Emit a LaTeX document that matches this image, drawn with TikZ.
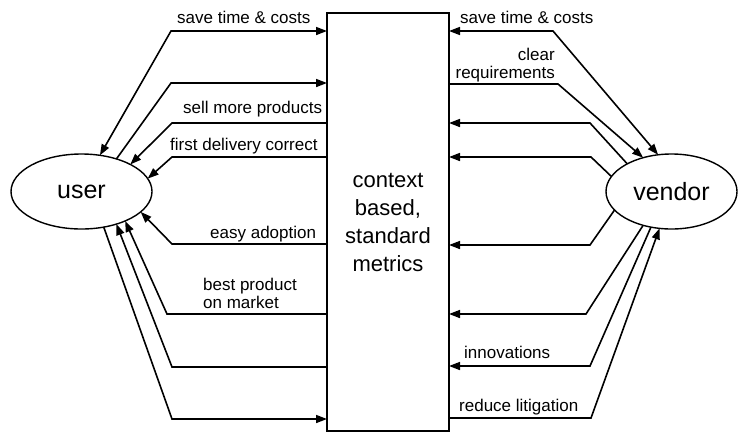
\documentclass[tikz,border=0pt]{standalone}
\usepackage{fontspec}
\setmainfont{Liberation Sans}
\usetikzlibrary{arrows.meta,shapes.geometric}
\begin{document}
\begin{tikzpicture}[x=1pt,y=-1pt,
  >={Triangle[length=11pt,width=8pt]},
  conn/.style={line width=1.6pt, line join=miter},
  lbl/.style={inner sep=0pt, font=\fontsize{17}{18}\selectfont},
  party/.style={ellipse, draw, line width=1.4pt, inner sep=0pt, outer sep=0pt,
                minimum height=75pt, font=\fontsize{25}{30}\selectfont},
  hub/.style={draw, line width=1.8pt, rectangle, inner sep=0pt, outer sep=0pt,
              minimum width=122pt, minimum height=418pt, align=center,
              font=\fontsize{22}{28}\selectfont}]
\useasboundingbox (0,0) rectangle (738,432);

% the two parties and the shared metrics in between
\node[party, minimum width=141pt] (user) at (81.5,191.5) {user};
\node[party, minimum width=131pt] (vendor) at (671.5,191.5) {vendor};
\node[hub] (hub) at (388,222) {context\\based,\\standard\\metrics};

% bends of the user-side connectors
\coordinate (l1) at (171,31);
\coordinate (l2) at (171,83);
\coordinate (l3) at (172,123);
\coordinate (l4) at (172,157);
\coordinate (l5) at (172,244);
\coordinate (l6) at (167,314);
\coordinate (l7) at (172,367);
\coordinate (l8) at (172,419);

\draw[conn,<->] (user.63) -- (l1) -- (l1 -| hub.west);
\draw[conn,->] (user.43) -- (l2) -- (l2 -| hub.west);
\draw[conn,->] (l3 -| hub.west) -- (l3) -- (user.29);
\draw[conn,->] (l4 -| hub.west) -- (l4) -- (user.11);
\draw[conn,->] (l5 -| hub.west) -- (l5) -- (user.-19);
\draw[conn,->] (l6 -| hub.west) -- (l6) -- (user.-34);
\draw[conn,->] (l7 -| hub.west) -- (l7) -- (user.-43);
\draw[conn,->] (user.-58) -- (l8) -- (l8 -| hub.west);

% bends of the vendor-side connectors
\coordinate (r1) at (553,31);
\coordinate (r2) at (558,84);
\coordinate (r3) at (590,123);
\coordinate (r4) at (591,157);
\coordinate (r5) at (590,245);
\coordinate (r6) at (586,314);
\coordinate (r7) at (590,366);
\coordinate (r8) at (591,418);

\draw[conn,<->] (vendor.110) -- (r1) -- (r1 -| hub.east);
\draw[conn,->] (r2 -| hub.east) -- (r2) -- (vendor.130);
\draw[conn,->] (vendor.148) -- (r3) -- (r3 -| hub.east);
\draw[conn,->] (vendor.166) -- (r4) -- (r4 -| hub.east);
\draw[conn,->] (vendor.198) -- (r5) -- (r5 -| hub.east);
\draw[conn,->] (vendor.230) -- (r6) -- (r6 -| hub.east);
\draw[conn,->] (vendor.240) -- (r7) -- (r7 -| hub.east);
\draw[conn,->] (r8 -| hub.east) -- (r8) -- (vendor.252);

% benefit labels, user side
\node[lbl, anchor=base west] (tu1) at (177,23) {save time \& costs};
\node[lbl, anchor=base west] (tu2) at (183,113) {sell more products};
\node[lbl, anchor=base west] (tu3) at (170,150) {first delivery correct};
\node[lbl, anchor=base west] (tu4) at (210,238) {easy adoption};
\node[lbl, anchor=north west, align=left] (tu5) at (203,277.6) {best product\\on market};

% benefit labels, vendor side
\node[lbl, anchor=base west] (tv1) at (460,23) {save time \& costs};
\node[lbl, anchor=north east, align=right] (tv2) at (555,47.6) {clear\\requirements};
\node[lbl, anchor=base west] (tv3) at (464,358) {innovations};
\node[lbl, anchor=base west] (tv4) at (459,411) {reduce litigation};
\end{tikzpicture}
\end{document}
